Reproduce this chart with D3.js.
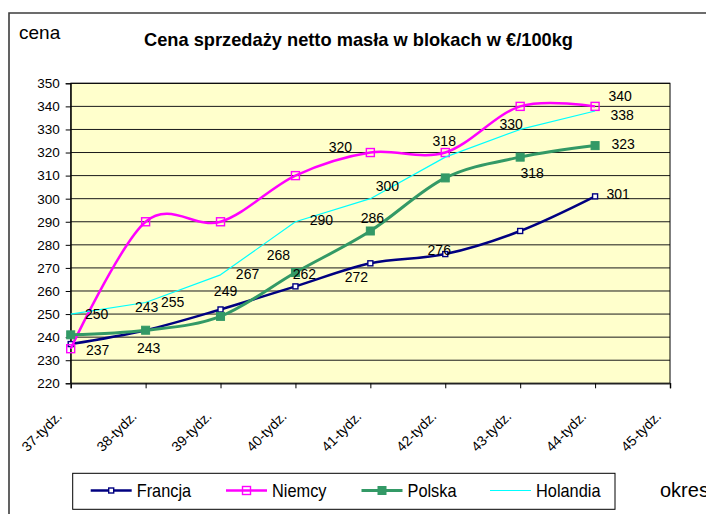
<!DOCTYPE html>
<html lang="pl">
<head>
<meta charset="UTF-8">
<title>Cena sprzedaży netto masła w blokach</title>
<script src="https://d3js.org/d3.v7.min.js"></script>
<style>
    body { margin: 0; padding: 0; background: #fff; overflow: hidden; }
    svg { display: block; font-family: "Liberation Sans", Arial, sans-serif; }
    .grid line { stroke: #1a1a1a; stroke-width: 1; }
    .tick text { fill: #000; }
    .dlabel { font-size: 14px; fill: #000; text-anchor: middle; }
</style>
</head>
<body>
<script>
    // dane z wykresu
    const weeks = ["37-tydz.", "38-tydz.", "39-tydz.", "40-tydz.", "41-tydz.", "42-tydz.", "43-tydz.", "44-tydz.", "45-tydz."];
    const francja = [237, 243, 252, 262, 272, 276, 286, 301];
    const niemcy = [235, 290, 290, 310, 320, 320, 340, 340];
    const polska = [241, 243, 249, 268, 286, 309, 318, 323];
    const holandia = [250, 255, 267, 290, 300, 318, 330, 338];
    const yTicks = d3.range(220, 351, 10);

    // etykiety danych: [indeks tygodnia, przesunięcie x, przesunięcie y]
    const francjaLabels = [[0, 27, 6], [1, 1, -23], [3, 9, -12], [4, -14, 14], [5, -6, -4], [7, 23, -2]];
    const niemcyLabels = [[4, -30, -6], [7, 25, -10]];
    const polskaLabels = [[1, 3, 18], [2, 5, -25], [3, -17, -18], [4, 2, -13], [6, 12, 16], [7, 28, -2]];
    const holandiaLabels = [[0, 26, 0], [1, 27, -1], [2, 27, -1], [3, 26, -2], [4, 17, -13], [5, -1, -16], [6, -9, -5], [7, 27, 4]];

    const series = [
        { name: "Francja", values: francja, labels: francjaLabels, color: "#000080", width: 2.5, marker: "small", smooth: true },
        { name: "Niemcy", values: niemcy, labels: niemcyLabels, color: "#ff00ff", width: 2.5, marker: "open", smooth: true },
        { name: "Polska", values: polska, labels: polskaLabels, color: "#339966", width: 3, marker: "filled", smooth: true },
        { name: "Holandia", values: holandia, labels: holandiaLabels, color: "#00ffff", width: 1.2, marker: null, smooth: false }
    ];

    const width = 706, height = 514;
    const plot = { left: 70.7, right: 670, top: 83.3, bottom: 383.3 };

    const svg = d3.select("body").append("svg")
        .attr("width", width)
        .attr("height", height);

    const x = d3.scalePoint().domain(weeks).range([plot.left, plot.right]);
    const y = d3.scaleLinear().domain([220, 350]).range([plot.bottom, plot.top]);

    // ramka wykresu
    svg.append("path")
        .attr("d", `M9,${height} V13 H${width}`)
        .attr("fill", "none")
        .attr("stroke", "#3c3c3c")
        .attr("stroke-width", 1.6);

    // tło obszaru kreślenia
    svg.append("rect")
        .attr("x", plot.left).attr("y", plot.top)
        .attr("width", plot.right - plot.left).attr("height", plot.bottom - plot.top)
        .attr("fill", "#ffffcc");

    // linie siatki
    svg.append("g").attr("class", "grid")
        .selectAll("line").data(yTicks).enter().append("line")
        .attr("x1", plot.left).attr("x2", plot.right)
        .attr("y1", d => y(d)).attr("y2", d => y(d));

    svg.append("rect")
        .attr("x", plot.left).attr("y", plot.top)
        .attr("width", plot.right - plot.left).attr("height", plot.bottom - plot.top)
        .attr("fill", "none").attr("stroke", "#000").attr("stroke-width", 1);

    // oś Y
    const yAxis = svg.append("g")
        .attr("transform", `translate(${plot.left},0)`)
        .call(d3.axisLeft(y).tickValues(yTicks).tickSize(5).tickPadding(6));
    yAxis.select(".domain").attr("stroke", "#000");
    yAxis.selectAll(".tick line").attr("stroke", "#000");
    yAxis.selectAll("text").style("font-size", "13.5px").style("font-family", "Liberation Sans, Arial, sans-serif");

    // oś X
    const xAxis = svg.append("g")
        .attr("transform", `translate(0,${plot.bottom})`)
        .call(d3.axisBottom(x).tickSize(5).tickFormat(""));
    xAxis.select(".domain").attr("stroke", "#222").attr("stroke-width", 1.5);
    xAxis.selectAll(".tick line").attr("stroke", "#000");

    svg.append("g").selectAll("text").data(weeks).enter().append("text")
        .attr("transform", d => `translate(${x(d) - 8},${plot.bottom + 34}) rotate(-45)`)
        .attr("text-anchor", "end")
        .style("font-size", "14px")
        .text(d => d);

    // linie serii
    series.forEach(s => {
        const pts = s.values.map((v, i) => [x(weeks[i]), y(v)]);
        const line = d3.line().curve(s.smooth ? d3.curveCardinal.tension(0) : d3.curveLinear);
        const g = svg.append("g");
        g.append("path")
            .attr("d", line(pts))
            .attr("fill", "none")
            .attr("stroke", s.color)
            .attr("stroke-width", s.width)
            .attr("stroke-linejoin", "round");
        drawMarkers(g, s, pts);
    });

    function drawMarkers(g, s, pts) {
        if (!s.marker) return;
        const size = s.marker === "small" ? 5 : 8;
        g.selectAll("rect").data(pts).enter().append("rect")
            .attr("x", d => d[0] - size / 2)
            .attr("y", d => d[1] - size / 2)
            .attr("width", size).attr("height", size)
            .attr("fill", s.marker === "filled" ? s.color : (s.marker === "small" ? "#ffffff" : "none"))
            .attr("stroke", s.color)
            .attr("stroke-width", s.marker === "filled" ? 1 : 1.4);
    }

    // etykiety danych
    series.forEach(s => {
        svg.append("g").selectAll("text").data(s.labels).enter().append("text")
            .attr("class", "dlabel")
            .attr("x", d => x(weeks[d[0]]) + d[1])
            .attr("y", d => y(s.values[d[0]]) + d[2] + 5)
            .text(d => s.values[d[0]]);
    });

    // tytuł i opisy osi
    const title = svg.append("text")
        .attr("x", 358.5).attr("y", 46)
        .attr("text-anchor", "middle")
        .style("font-size", "18.5px").style("font-weight", "bold")
        .text("Cena sprzedaży netto masła w blokach w €/100kg");
    title.attr("textLength", 429).attr("lengthAdjust", "spacingAndGlyphs");

    svg.append("text").attr("x", 19).attr("y", 38.5)
        .style("font-size", "19px").text("cena");

    svg.append("text").attr("x", 660).attr("y", 496.5)
        .style("font-size", "20px").text("okres");

    // legenda
    const legendX = [90.7, 226, 361.5, 490];
    const legend = svg.append("g");
    legend.append("rect")
        .attr("x", 72.7).attr("y", 473.3).attr("width", 542.3).attr("height", 36)
        .attr("fill", "#fff").attr("stroke", "#000").attr("stroke-width", 1);

    series.forEach((s, i) => {
        const lx = legendX[i], ly = 490.5;
        const g = legend.append("g");
        g.append("line")
            .attr("x1", lx).attr("x2", lx + 41)
            .attr("y1", ly).attr("y2", ly)
            .attr("stroke", s.color).attr("stroke-width", s.width);
        drawMarkers(g, s, [[lx + 20.5, ly]]);
        const t = g.append("text")
            .attr("x", lx + 46).attr("y", ly + 6.5)
            .style("font-size", "19px")
            .text(s.name);
        const w = t.node().getComputedTextLength();
        t.attr("textLength", w * 0.86).attr("lengthAdjust", "spacingAndGlyphs");
    });
</script>
</body>
</html>
